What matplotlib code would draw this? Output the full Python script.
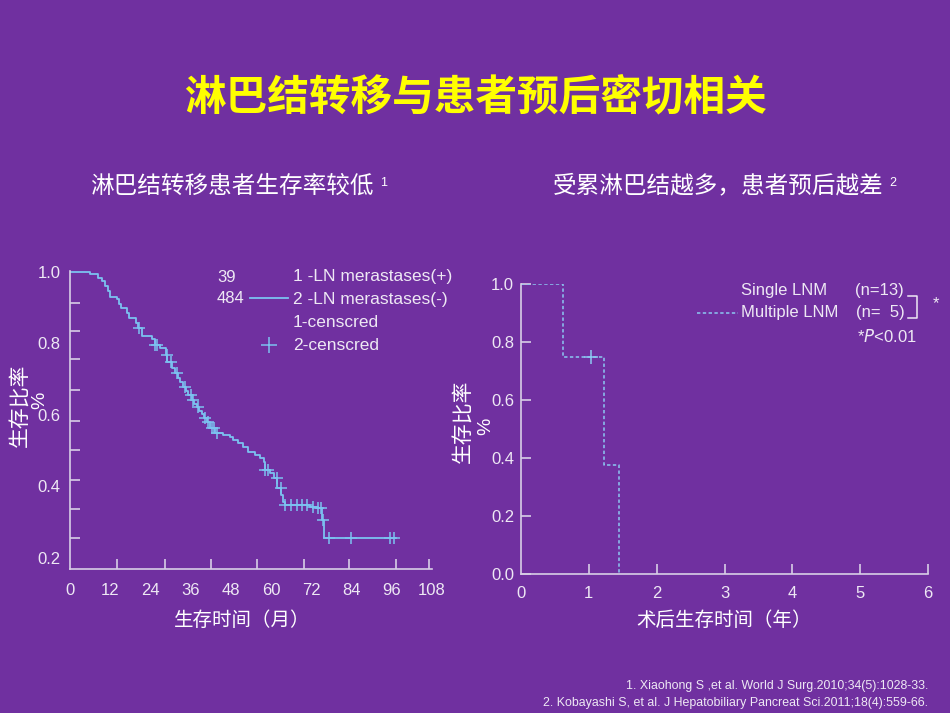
import numpy as np
import matplotlib.pyplot as plt
from matplotlib.lines import Line2D

plt.rcParams['font.family'] = ['Liberation Sans', 'Noto Sans CJK SC', 'DejaVu Sans']
CJK = ['Noto Sans CJK SC', 'DejaVu Sans']

BG = '#7030A0'
AXC = '#D8CEE6'
TXT = '#EEE8F4'
CURVE = '#7CC2F0'

# left chart: survival vs months (LN metastasis)
km1_time = [0, 6.0, 8.3, 9.5, 10.4, 11.3, 11.9, 13.9, 14.7, 15.2, 17.0, 17.6, 19.7,
            20.3, 21.5, 24.5, 25.4, 26.8, 28.6, 28.9, 30.3, 31.3, 32.2, 32.8, 33.8,
            34.6, 35.3, 36.3, 37.0, 37.8, 38.5, 39.3, 40.0, 40.8, 41.8, 43.3, 45.6,
            47.7, 48.7, 50.2, 51.7, 53.2, 55.2, 56.7, 57.9, 58.2, 59.7, 60.9, 61.8,
            63.0, 63.5, 64.1, 71.6, 73.7, 75.1, 75.9]
km1_surv = [1.0, 0.994, 0.984, 0.975, 0.961, 0.947, 0.931, 0.924, 0.910, 0.898, 0.885,
            0.870, 0.857, 0.843, 0.820, 0.813, 0.796, 0.787, 0.768, 0.749, 0.731, 0.717,
            0.703, 0.692, 0.679, 0.667, 0.656, 0.642, 0.631, 0.622, 0.611, 0.603, 0.592,
            0.581, 0.563, 0.549, 0.544, 0.537, 0.530, 0.521, 0.511, 0.497, 0.488, 0.479,
            0.469, 0.446, 0.437, 0.423, 0.395, 0.376, 0.357, 0.348, 0.342, 0.339, 0.306,
            0.255]
km1_end = 97.3
km1_cens = [20.7, 25.4, 25.9, 28.8, 30.0, 31.8, 34.3, 36.1, 36.8, 38.3, 40.3, 41.3,
            42.3, 43.0, 43.8, 58.2, 59.2, 61.7, 62.9, 64.1, 65.8, 67.6, 69.1, 70.8,
            72.6, 74.1, 74.9, 75.6, 77.4, 83.8, 95.5, 96.7]
x1_labels = [0, 12, 24, 36, 48, 60, 72, 84, 96, 108]
y1_labels = [1.0, 0.8, 0.6, 0.4, 0.2]

# right chart: survival vs years (multiple LNM)
km2_time = [0, 0.615, 1.22, 1.45]
km2_surv = [1.0, 0.75, 0.375, 0.0]
km2_cens = [1.03]


def step_at(times, surv, t):
    i = np.searchsorted(times, t, side='right') - 1
    return np.array(surv)[i]


def fx(px):
    return px / 950


def fy(py):
    return 1 - py / 713


fig = plt.figure(figsize=(9.5, 7.13), dpi=100, facecolor=BG)

# ---- left axes
ax1 = fig.add_axes([fx(70), fy(569), fx(432) - fx(70), fy(271) - fy(569)])
ax1.set_facecolor(BG)
ax1.step(km1_time + [km1_end], km1_surv + [km1_surv[-1]], where='post',
         color=CURVE, lw=1.3)
ax1.plot(km1_cens, step_at(km1_time, km1_surv, km1_cens), '+', color=CURVE,
         ms=8, mew=1.1)
ax1.set_xlim(0, 108)
ax1.set_ylim(0.168, 1.003)
ax1.set_xticks(x1_labels)
ax1.set_xticklabels([str(v) for v in x1_labels])
ax1.set_yticks(y1_labels)
ax1.set_yticklabels([f'{v:.1f}' for v in y1_labels])
ax1.tick_params(which='major', length=0, colors=TXT, labelsize=12)
ax1.tick_params(axis='x', which='major', pad=10)
ax1.tick_params(axis='y', which='major', pad=7)
# tick marks of the original plot sit off the text labels
ax1.set_xticks([14.0, 28.3, 42.1, 55.8, 69.8, 83.2, 97.3, 107.1], minor=True)
ax1.set_yticks([1.0, 0.913, 0.835, 0.757, 0.670, 0.583, 0.502, 0.418, 0.337, 0.256],
               minor=True)
ax1.tick_params(which='minor', direction='in', length=7, width=1.2, color=AXC)

# ---- right axes
ax2 = fig.add_axes([fx(521), fy(574), fx(928) - fx(521), fy(284) - fy(574)])
ax2.set_facecolor(BG)
ax2.step(km2_time, km2_surv, where='post', color='#8CC8F2', lw=1.1,
         linestyle=(0, (2.2, 1.6)))
ax2.plot(km2_cens, step_at(km2_time, km2_surv, km2_cens), '+', color='#8CC8F2',
         ms=10, mew=1.1)
ax2.set_xlim(0, 6)
ax2.set_ylim(0, 1.0)
ax2.set_xticks(range(7))
ax2.set_yticks([0, 0.2, 0.4, 0.6, 0.8, 1.0])
ax2.set_yticklabels(['0.0', '0.2', '0.4', '0.6', '0.8', '1.0'])
ax2.tick_params(direction='in', length=7, width=1.2, color=AXC, labelcolor=TXT,
                labelsize=12)
ax2.tick_params(axis='x', pad=9)
ax2.tick_params(axis='y', pad=5)
ax2.xaxis.get_major_ticks()[0].tick1line.set_visible(False)

for ax in (ax1, ax2):
    for s in ('top', 'right'):
        ax.spines[s].set_visible(False)
    for s in ('left', 'bottom'):
        ax.spines[s].set_color(AXC)
        ax.spines[s].set_linewidth(1.2)

# ---- titles
fig.text(0.5, fy(97), '淋巴结转移与患者预后密切相关', family=CJK, color='#FFFF00',
         fontsize=30, fontweight='bold', ha='center', va='center')
fig.text(fx(90), fy(186), '淋巴结转移患者生存率较低', family=CJK, color='white',
         fontsize=17, ha='left', va='center')
fig.text(fx(380), fy(183), '1', color='white', fontsize=9, ha='left', va='center')
fig.text(fx(553), fy(186), '受累淋巴结越多，患者预后越差', family=CJK, color='white',
         fontsize=17, ha='left', va='center')
fig.text(fx(889), fy(183), '2', color='white', fontsize=9, ha='left', va='center')

# ---- axis titles
fig.text(fx(21), fy(405), '生存比率', family=CJK, color='white', fontsize=15,
         rotation=90, ha='center', va='center')
fig.text(fx(40), fy(400), '%', color='white', fontsize=14, rotation=90,
         ha='center', va='center')
fig.text(fx(242), fy(620), '生存时间（月）', family=CJK, color='white', fontsize=14,
         ha='center', va='center')
fig.text(fx(464), fy(421), '生存比率', family=CJK, color='white', fontsize=15,
         rotation=90, ha='center', va='center')
fig.text(fx(486), fy(426), '%', color='white', fontsize=14, rotation=90,
         ha='center', va='center')
fig.text(fx(724), fy(620), '术后生存时间（年）', family=CJK, color='white', fontsize=14,
         ha='center', va='center')

# ---- left legend
lg = dict(color=TXT, fontsize=12.5, va='center', ha='left')
fig.text(fx(217), fy(278), '39', color=TXT, fontsize=12, va='center', ha='left')
fig.text(fx(217), fy(298), '484', color=TXT, fontsize=12, va='center', ha='left')
fig.add_artist(Line2D([fx(250), fx(288)], [fy(298), fy(298)], color=CURVE, lw=1.3))
fig.text(fx(293), fy(276), '1 -LN merastases(+)', **lg)
fig.text(fx(293), fy(299), '2 -LN merastases(-)', **lg)
fig.text(fx(293), fy(322), '1-censcred', **lg)
fig.add_artist(Line2D([fx(269)], [fy(345)], marker='+', ms=11, mew=1.1, color=CURVE))
fig.text(fx(293), fy(345), '2-censcred', **lg)

# ---- right legend
rg = dict(color=TXT, fontsize=12, va='center', ha='left')
fig.text(fx(741), fy(290), 'Single LNM', **rg)
fig.text(fx(855), fy(290), '(n=13)', **rg)
fig.text(fx(741), fy(312), 'Multiple LNM', **rg)
fig.text(fx(856), fy(312), '(n=  5)', **rg)
fig.add_artist(Line2D([fx(697), fx(738)], [fy(313), fy(313)], color='#8CC8F2', lw=1.1,
                      linestyle=(0, (2.2, 1.6))))
fig.add_artist(Line2D([fx(908), fx(917), fx(917), fx(908)],
                      [fy(296), fy(296), fy(318), fy(318)], color=TXT, lw=1.1))
fig.text(fx(933), fy(304), '*', **rg)
fig.text(fx(857), fy(336), r'*$\it{P}$<0.01', **rg)

# ---- references
fig.text(fx(928), fy(686), '1. Xiaohong S ,et al. World J Surg.2010;34(5):1028-33.',
         color=TXT, fontsize=8.9, ha='right', va='center')
fig.text(fx(928), fy(703),
         '2. Kobayashi S, et al. J Hepatobiliary Pancreat Sci.2011;18(4):559-66.',
         color=TXT, fontsize=8.9, ha='right', va='center')

fig.savefig('out.png', dpi=100, facecolor=BG)
